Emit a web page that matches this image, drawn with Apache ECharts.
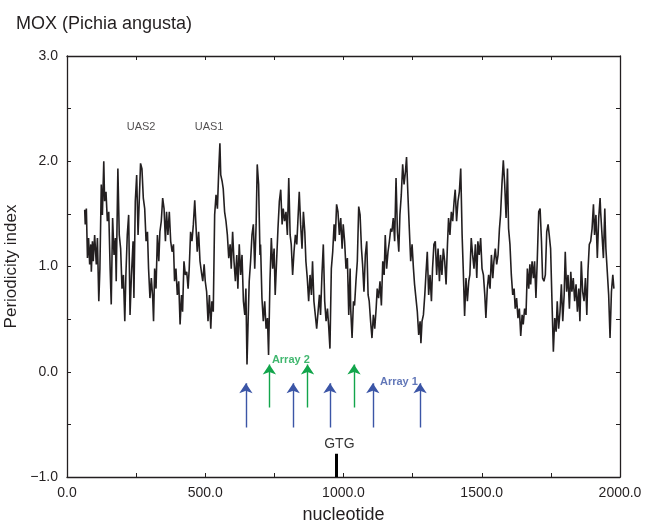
<!DOCTYPE html>
<html>
<head>
<meta charset="utf-8">
<script src="https://cdn.jsdelivr.net/npm/echarts@6.0.0/dist/echarts.min.js"></script>
<style>
  html, body { margin: 0; padding: 0; background: #fff; }
  #chart { width: 645px; height: 522px; }
</style>
</head>
<body>
<div id="chart"></div>
<script>
// periodicity index along the MOX promoter, [nucleotide, index]
const profile = [
  [64,1.54],[66,1.40],[70,1.55],[74,1.08],[78,1.27],[82,1.02],[86,1.21],[88,0.95],[92,1.24],[95,1.05],
  [100,1.30],[106,1.02],[110,1.27],[115,0.67],[119,0.98],[124,1.78],[128,1.49],[133,2.00],[136,1.62],[141,1.71],
  [146,1.43],[151,1.52],[156,0.98],[160,0.64],[165,1.46],[170,1.11],[175,1.27],[178,0.86],[184,1.93],[189,1.30],
  [194,1.17],[199,0.79],[204,0.92],[209,0.48],[213,0.92],[218,1.30],[223,1.49],[228,0.54],[233,0.92],[239,1.24],
  [242,0.70],[247,1.62],[252,1.87],[257,1.30],[262,1.68],[266,1.98],[271,1.93],[276,1.65],[281,1.55],[286,1.24],
  [291,1.33],[295,0.98],[300,0.70],[305,0.89],[310,0.70],[313,0.48],[317,0.98],[322,0.79],[327,1.30],[332,1.05],
  [336,1.33],[341,1.43],[346,1.65],[351,1.55],[356,1.24],[360,1.52],[365,1.30],[370,1.52],
  [375,1.24],[380,1.14],[385,1.21],[389,0.86],[394,0.98],[399,0.73],[404,0.86],[409,0.45],[414,0.73],[418,0.57],
  [423,1.05],[428,0.92],[433,0.95],[438,0.79],[442,0.98],[447,1.33],[452,1.24],[457,1.40],[462,1.63],[467,1.36],
  [471,1.14],[476,1.33],[481,1.05],[486,0.95],[491,0.86],[496,1.02],[500,0.86],[505,0.76],[510,0.48],[515,0.73],
  [520,0.41],[524,0.67],[529,0.57],[534,1.49],[539,1.68],[544,1.55],[549,1.93],[553,2.17],[556,1.87],[561,1.81],
  [565,1.74],[570,1.52],[575,1.43],[580,1.30],[585,1.08],[590,1.21],[594,0.98],[599,1.33],[604,1.05],[609,0.86],
  [614,1.11],[618,0.79],[623,1.21],[628,0.92],[633,1.11],[638,0.67],[643,0.54],[647,0.79],[651,0.07],[655,0.48],
  [659,0.86],[664,1.05],[669,1.30],[674,1.40],[679,0.98],[684,1.40],[688,1.97],[693,1.78],[698,1.11],
  [700,1.21],[705,0.70],[710,0.48],[715,0.67],[720,0.41],[725,0.51],[729,0.16],[734,0.86],[739,1.27],[744,0.98],
  [749,1.17],[753,0.73],[758,1.05],[763,1.36],[768,1.62],[773,1.73],[778,1.40],[782,1.55],[787,1.43],[792,1.52],
  [797,1.30],[802,1.84],[807,1.30],[811,1.21],[816,0.92],[821,1.14],[826,1.30],[831,1.21],[835,1.43],[840,1.71],
  [845,1.40],[850,1.17],[855,1.52],[860,1.33],[864,1.05],[869,0.89],[874,0.67],[879,0.92],[884,0.73],[888,1.05],
  [893,0.67],[898,0.54],[903,0.41],[908,0.57],[913,0.73],[917,0.54],[922,0.92],[927,1.21],[932,0.67],[937,0.48],
  [942,0.60],[946,0.45],[951,0.22],[956,0.98],[961,1.14],[966,1.40],[970,1.24],[975,1.59],[980,1.52],[985,1.30],
  [990,1.46],[995,1.17],[999,1.40],[1004,1.24],[1009,0.98],[1014,1.08],[1019,0.54],[1024,0.98],
  [1026,0.60],[1031,0.32],[1036,0.67],[1040,0.63],[1045,0.86],[1050,1.05],[1055,1.57],[1060,1.49],[1065,1.17],[1069,1.02],
  [1074,0.76],[1079,1.11],[1084,1.24],[1089,0.73],[1093,0.67],[1098,0.48],[1103,0.32],[1108,0.54],[1113,0.41],[1118,0.60],
  [1122,0.79],[1127,0.70],[1132,0.86],[1137,0.63],[1142,1.05],[1147,0.92],[1151,1.30],[1156,0.98],[1161,1.14],[1166,1.24],
  [1171,1.36],[1175,1.33],[1180,1.46],[1185,1.24],[1190,1.84],[1195,1.33],[1200,1.14],[1204,1.49],[1209,1.68],[1214,1.97],
  [1219,1.78],[1224,1.90],[1228,2.04],[1233,1.68],[1238,1.36],[1243,1.05],[1248,1.21],[1253,0.98],[1257,0.83],[1262,0.70],
  [1267,0.57],[1272,0.35],[1277,0.48],[1280,0.27],[1284,0.48],[1289,0.54],[1294,0.73],[1298,0.92],[1303,1.14],[1308,0.73],
  [1313,0.92],[1318,0.67],[1322,0.98],[1327,1.21],[1332,1.24],[1337,0.92],[1342,1.17],[1347,0.86],
  [1351,1.11],[1356,0.92],[1361,1.17],[1366,1.05],[1371,0.83],[1376,1.21],[1380,1.46],[1385,1.30],[1390,1.52],[1395,1.43],
  [1400,1.62],[1404,1.73],[1409,1.43],[1414,1.62],[1419,1.71],[1424,1.93],[1429,1.30],[1433,0.98],[1438,0.53],[1443,0.89],
  [1448,0.67],[1453,0.86],[1457,0.92],[1462,1.27],[1467,1.11],[1472,0.98],[1477,1.21],[1482,0.89],[1486,1.24],[1491,1.11],
  [1496,1.27],[1501,0.98],[1506,0.92],[1511,0.73],[1515,0.51],[1520,0.79],[1525,0.92],[1530,0.79],[1535,1.11],[1540,0.89],
  [1544,1.05],[1549,1.17],[1554,1.02],[1559,1.11],[1564,1.36],[1568,1.49],[1573,1.78],[1578,2.01],[1583,1.78],[1588,1.46],
  [1593,1.93],[1597,1.36],[1602,1.21],[1607,0.92],[1612,0.73],[1617,0.79],[1621,0.60],[1626,0.70],[1631,0.51],[1636,0.60],
  [1641,0.34],[1646,0.54],[1650,0.45],[1655,0.60],[1660,0.54],[1665,0.98],[1670,0.79],[1674,1.02],
  [1677,0.83],[1682,1.05],[1687,0.89],[1691,1.05],[1696,0.70],[1701,1.08],[1706,1.52],[1711,1.55],[1716,1.24],[1720,0.89],
  [1725,0.86],[1730,0.92],[1735,1.33],[1740,1.40],[1744,1.30],[1749,1.17],[1754,0.67],[1759,0.19],[1764,0.51],[1769,0.38],
  [1773,0.67],[1778,0.41],[1783,0.57],[1788,0.83],[1793,0.48],[1798,0.73],[1802,1.14],[1807,0.76],[1812,0.92],[1817,0.60],
  [1822,0.95],[1826,0.76],[1831,0.89],[1836,0.67],[1841,0.83],[1846,0.57],[1851,0.79],[1855,0.48],[1860,1.05],[1865,0.76],
  [1870,0.67],[1875,0.89],[1880,0.54],[1884,0.95],[1889,1.21],[1894,1.24],[1899,1.36],[1904,1.59],[1908,1.30],[1913,1.49],
  [1918,1.08],[1923,1.46],[1928,1.65],[1930,1.52],[1935,1.30],[1940,1.08],[1945,1.55],[1949,1.17],[1954,0.95],[1959,0.73],
  [1964,0.32],[1969,0.76],[1974,0.92],[1978,0.79]
];

// sites marked with arrows (nucleotide positions)
const array1Sites = [647, 818, 951, 1106, 1277];
const array2Sites = [732, 870, 1038];
const gtgSite = 975;

// text labels: [nucleotide, index, text]
const uasLabels = [[268, 2.33, 'UAS2'], [514, 2.33, 'UAS1']];
const arrayLabels = [[741, 0.11, 'Array 2'], [1132, -0.095, 'Array 1']];
const gtgLabel = [985, -0.69, 'GTG'];

const xTicks = [0, 500, 1000, 1500, 2000];
const yTicks = [-1, 0, 1, 2, 3];

const BLUE = '#3b55a6';
const GREEN = '#12a54b';
const INK = '#231f20';

const chart = echarts.init(document.getElementById('chart'), null, {renderer: 'canvas'});

function fmt(v) {
  return (v < 0 ? '\u2212' : '') + Math.abs(v).toFixed(1);
}

const axisCommon = {
  axisLine: {show: true, onZero: false, lineStyle: {color: INK, width: 1.3}},
  axisTick: {show: true, inside: true, length: 4, lineStyle: {color: INK, width: 1}},
  minorTick: {show: true, splitNumber: 2, length: 4, lineStyle: {color: INK, width: 1}},
  splitLine: {show: false}
};

function arrows(sites, y0, y1) {
  return sites.map(s => ({coords: [[s, y0], [s, y1]]}));
}

chart.setOption({
  animation: false,
  backgroundColor: '#fff',
  title: {
    text: 'MOX (Pichia angusta)',
    left: 11, top: 10,
    textStyle: {fontFamily: 'Liberation Sans', fontWeight: 'normal', fontSize: 18, color: INK}
  },
  grid: {left: 67, right: 25, top: 56, bottom: 45, outerBoundsMode: 'none'},
  xAxis: [
    Object.assign({}, axisCommon, {
      type: 'value', min: xTicks[0], max: xTicks[xTicks.length - 1], interval: 500,
      name: 'nucleotide', nameLocation: 'middle', nameGap: 29,
      nameTextStyle: {fontFamily: 'Liberation Sans', fontSize: 18, color: INK},
      axisLabel: {formatter: fmt, fontFamily: 'Liberation Sans', fontSize: 14, color: INK, margin: 9}
    }),
    Object.assign({}, axisCommon, {
      type: 'value', position: 'top', min: 0, max: 2000, interval: 500,
      axisLabel: {show: false}
    })
  ],
  yAxis: [
    Object.assign({}, axisCommon, {
      type: 'value', min: yTicks[0], max: yTicks[yTicks.length - 1], interval: 1,
      name: 'Periodicity index', nameLocation: 'middle', nameGap: 35,
      nameTextStyle: {fontFamily: 'Liberation Sans', fontSize: 17, color: INK},
      axisLabel: {formatter: fmt, fontFamily: 'Liberation Sans', fontSize: 14, color: INK, margin: 9}
    }),
    Object.assign({}, axisCommon, {
      type: 'value', position: 'right', min: -1, max: 3, interval: 1,
      axisLabel: {show: false}
    })
  ],
  series: [
    {
      type: 'line',
      data: profile,
      showSymbol: false,
      symbol: 'none',
      lineStyle: {color: INK, width: 1.6},
      z: 3
    },
    {
      type: 'lines',
      coordinateSystem: 'cartesian2d',
      data: arrows(array1Sites, -0.53, -0.11),
      symbol: ['none', 'arrow'],
      symbolSize: [7, 10],
      lineStyle: {color: BLUE, width: 1.4, opacity: 1}
    },
    {
      type: 'lines',
      coordinateSystem: 'cartesian2d',
      data: arrows(array2Sites, -0.34, 0.07),
      symbol: ['none', 'arrow'],
      symbolSize: [7, 10],
      lineStyle: {color: GREEN, width: 1.4, opacity: 1}
    },
    {
      type: 'lines',
      coordinateSystem: 'cartesian2d',
      data: [{coords: [[gtgSite, -1], [gtgSite, -0.78]]}],
      symbol: 'none',
      lineStyle: {color: '#000', width: 3, opacity: 1}
    },
    {
      type: 'scatter',
      data: uasLabels.map(d => [d[0], d[1], d[2]]),
      symbolSize: 0,
      label: {
        show: true, position: 'inside', formatter: p => p.data[2],
        fontFamily: 'Liberation Sans', fontSize: 11, color: INK
      }
    },
    {
      type: 'scatter',
      data: arrayLabels.map((d, i) => ({
        value: [d[0], d[1], d[2]],
        label: {color: i === 0 ? GREEN : BLUE}
      })),
      symbolSize: 0,
      label: {
        show: true, position: 'right', distance: 0, formatter: p => p.data.value[2],
        fontFamily: 'Liberation Sans', fontWeight: 'bold', fontSize: 11
      }
    },
    {
      type: 'scatter',
      data: [[gtgLabel[0], gtgLabel[1], gtgLabel[2]]],
      symbolSize: 0,
      label: {
        show: true, position: 'inside', formatter: p => p.data[2],
        fontFamily: 'Liberation Sans', fontSize: 14, color: '#000'
      }
    }
  ]
});
</script>
</body>
</html>
